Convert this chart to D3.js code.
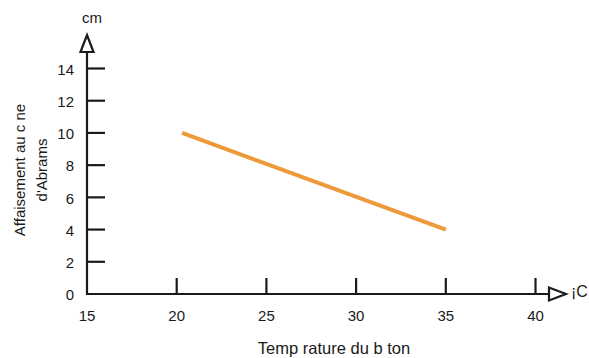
<!DOCTYPE html>
<html>
<head>
<meta charset="utf-8">
<script src="https://cdn.jsdelivr.net/npm/d3@7"></script>
<style>
  html, body { margin: 0; padding: 0; background: #fff; }
  svg { display: block; font-family: "Liberation Sans", Arial, sans-serif; }
</style>
</head>
<body>
<svg id="chart" width="589" height="358"></svg>
<script>
// Slump of the Abrams cone versus concrete temperature
const temperature = [20.3, 35];
const slump = [10, 4];
const xTicks = [20, 25, 30, 35, 40];
const xLabels = [15, 20, 25, 30, 35, 40];
const yTicks = [2, 4, 6, 8, 10, 12, 14];
const yLabels = [0, 2, 4, 6, 8, 10, 12, 14];

const svg = d3.select("#chart");
const x0 = 87, y0 = 294;
const x = d3.scaleLinear().domain([15, 40]).range([x0, 535.5]);
const y = d3.scaleLinear().domain([0, 14]).range([y0, 68.5]);

const ink = "#1a1a1a";

// axis lines
svg.append("line").attr("x1", x0).attr("x2", x0).attr("y1", y0).attr("y2", 52)
  .attr("stroke", ink).attr("stroke-width", 2.2);
svg.append("line").attr("x1", x0 - 1).attr("x2", 549).attr("y1", y0).attr("y2", y0)
  .attr("stroke", ink).attr("stroke-width", 2.2);

// open arrowheads
svg.append("path")
  .attr("d", `M${x0},35 L${x0 + 6.5},52 L${x0 - 6.5},52 Z`)
  .attr("fill", "#fff").attr("stroke", ink).attr("stroke-width", 2.2).attr("stroke-linejoin", "miter");
svg.append("path")
  .attr("d", `M566,${y0} L549,${y0 - 6.5} L549,${y0 + 6.5} Z`)
  .attr("fill", "#fff").attr("stroke", ink).attr("stroke-width", 2.2).attr("stroke-linejoin", "miter");

// ticks
svg.append("g").selectAll("line").data(yTicks).join("line")
  .attr("x1", x0).attr("x2", x0 + 18)
  .attr("y1", d => y(d)).attr("y2", d => y(d))
  .attr("stroke", ink).attr("stroke-width", 2.2);
svg.append("g").selectAll("line").data(xTicks).join("line")
  .attr("x1", d => x(d)).attr("x2", d => x(d))
  .attr("y1", y0).attr("y2", y0 - 16)
  .attr("stroke", ink).attr("stroke-width", 2.2);

// tick labels
svg.append("g").selectAll("text").data(yLabels).join("text")
  .attr("x", 74).attr("y", d => y(d) + 1).attr("dy", "0.35em")
  .attr("text-anchor", "end").attr("font-size", 15).attr("fill", ink)
  .text(d => d);
svg.append("g").selectAll("text").data(xLabels).join("text")
  .attr("x", d => x(d)).attr("y", 321)
  .attr("text-anchor", "middle").attr("font-size", 15).attr("fill", ink)
  .text(d => d);

// axis titles
svg.append("text").attr("x", 92).attr("y", 23).attr("text-anchor", "middle")
  .attr("font-size", 15).attr("fill", ink).text("cm");
svg.append("text").attr("x", 571).attr("y", 297).attr("text-anchor", "start")
  .attr("font-size", 16).attr("fill", ink).text("¡C");
svg.append("text").attr("x", 334).attr("y", 354).attr("text-anchor", "middle")
  .attr("font-size", 16.5).attr("fill", ink).text("Temp rature du b ton");

const yt = svg.append("text").attr("transform", "translate(25,170) rotate(-90)")
  .attr("text-anchor", "middle").attr("font-size", 15).attr("fill", ink);
yt.append("tspan").attr("x", 0).attr("dy", 0).text("Affaisement au c ne");
yt.append("tspan").attr("x", 0).attr("dy", 22).text("d'Abrams");

// data line
const line = d3.line().x((d, i) => x(temperature[i])).y(d => y(d));
svg.append("path").datum(slump)
  .attr("d", line)
  .attr("fill", "none").attr("stroke", "#ed9a3a").attr("stroke-width", 4);
</script>
</body>
</html>
